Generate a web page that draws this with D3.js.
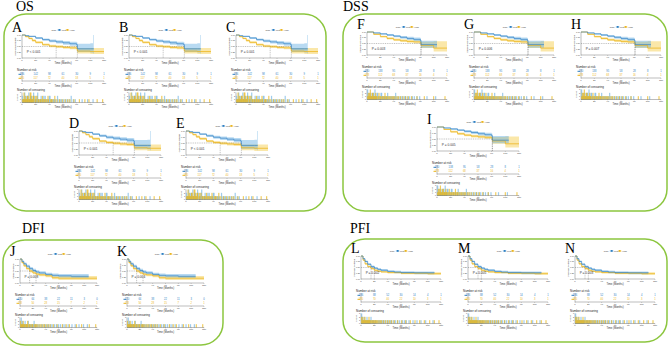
<!DOCTYPE html>
<html>
<head>
<meta charset="utf-8">
<script src="https://cdn.jsdelivr.net/npm/d3@7"></script>
<style>
  body { margin: 0; background: #fff; }
  svg { display: block; }
</style>
</head>
<body>
<div id="chart"></div>
<script>
// ---- data: [time, surv, lower, upper] per risk group ----
const osLow = [[0,1,1,1],[5,.97,.95,.99],[10,.94,.91,.97],[20,.87,.83,.91],[30,.80,.75,.85],[40,.74,.68,.80],[50,.70,.63,.77],[60,.66,.58,.74],[70,.62,.53,.71],[80,.58,.48,.69],[81,.40,.26,.62],[100,.40,.24,.64],[104,.40,.20,1],[105,.40,.20,1]];
const osHigh = [[0,1,1,1],[5,.93,.90,.96],[10,.85,.81,.89],[15,.76,.71,.81],[20,.68,.63,.73],[30,.58,.53,.63],[40,.52,.47,.58],[50,.49,.43,.55],[60,.46,.40,.52],[70,.44,.38,.51],[80,.42,.35,.50],[81,.30,.20,.44],[100,.28,.17,.44],[120,.28,.17,.44]];
const dssLow = [[0,1,1,1],[10,.96,.94,.98],[20,.92,.88,.95],[30,.87,.83,.91],[40,.82,.77,.87],[50,.77,.71,.83],[60,.72,.65,.79],[70,.68,.60,.76],[80,.64,.55,.73],[81,.45,.32,.62],[105,.45,.30,.64]];
const dssHigh = [[0,1,1,1],[10,.90,.87,.93],[20,.80,.76,.84],[30,.72,.67,.77],[40,.66,.61,.72],[50,.62,.56,.68],[60,.59,.53,.66],[70,.57,.50,.64],[80,.55,.47,.63],[81,.42,.30,.58],[100,.30,.15,.60],[120,.30,.15,.60]];
const dfiLow = [[0,1,1,1],[3,.90,.86,.94],[6,.80,.75,.85],[10,.70,.64,.76],[15,.60,.54,.67],[20,.52,.46,.59],[25,.46,.40,.53],[30,.42,.36,.49],[40,.36,.30,.43],[50,.32,.26,.40],[60,.30,.23,.38],[80,.28,.21,.37],[107,.28,.20,.37]];
const dfiHigh = [[0,1,1,1],[3,.85,.81,.89],[6,.72,.67,.77],[10,.60,.55,.66],[15,.50,.44,.56],[20,.42,.36,.48],[25,.37,.31,.43],[30,.34,.28,.40],[40,.30,.24,.36],[50,.22,.16,.30],[60,.20,.13,.29],[120,.20,.13,.29]];
const pfiLow = [[0,1,1,1],[3,.88,.85,.91],[6,.76,.72,.80],[10,.64,.60,.69],[15,.54,.49,.59],[20,.47,.42,.52],[25,.42,.37,.47],[30,.38,.33,.43],[40,.33,.28,.38],[50,.30,.25,.36],[60,.28,.23,.34],[80,.27,.21,.33],[110,.26,.20,.33]];
const pfiHigh = [[0,1,1,1],[3,.82,.79,.85],[6,.66,.62,.70],[10,.54,.50,.58],[15,.45,.41,.49],[20,.38,.34,.42],[25,.34,.30,.38],[30,.31,.27,.35],[40,.28,.24,.32],[60,.25,.21,.30],[100,.23,.18,.29],[120,.23,.18,.29]];

// numbers at risk at 0,20,...,120
const osRiskLow = [186, 142, 98, 61, 30, 9, 1];
const osRiskHigh = [185, 117, 72, 40, 18, 5, 1];
const dssRiskLow = [180, 138, 95, 58, 28, 8, 1];
const dssRiskHigh = [178, 112, 68, 37, 16, 4, 1];
const dfiRiskLow = [120, 64, 38, 22, 11, 3, 0];
const dfiRiskHigh = [118, 50, 28, 15, 7, 2, 1];
const pfiRiskLow = [186, 88, 52, 30, 14, 4, 1];
const pfiRiskHigh = [185, 70, 40, 22, 10, 3, 1];

// censoring: [time, count]
const osCensLow = [[1,2],[2,1],[3,1],[4,3],[5,1],[6,1],[7,2],[8,2],[9,1],[10,3],[11,1],[12,1],[13,2],[14,2],[15,1],[16,1],[17,3],[18,2],[20,1],[21,1],[22,2],[23,3],[24,1],[26,1],[27,1],[28,2],[29,1],[31,1],[32,2],[34,2],[35,1],[37,1],[38,1],[40,2],[41,2],[43,1],[44,1],[46,1],[47,1],[49,1],[52,2],[54,1],[56,1],[58,1],[61,1],[64,1],[66,1],[69,1],[72,2],[75,1],[78,1],[88,1],[96,1],[104,1]];
const osCensHigh = [[1,1],[2,1],[3,3],[4,1],[5,2],[6,1],[7,1],[8,2],[9,2],[10,1],[11,1],[12,3],[13,3],[14,1],[15,1],[16,2],[17,2],[19,1],[20,2],[22,2],[24,1],[25,1],[27,1],[28,1],[30,2],[31,1],[33,1],[34,1],[36,1],[38,2],[39,1],[42,1],[43,1],[45,1],[48,2],[51,1],[55,1],[59,1],[63,1],[67,1],[70,1],[76,1],[84,1],[92,1],[98,1],[110,1],[118,1]];
const dssCensLow = [[1,3],[2,1],[3,2],[4,1],[5,1],[6,2],[7,1],[8,1],[9,2],[10,2],[11,1],[12,3],[13,1],[14,1],[15,2],[16,2],[18,1],[19,1],[21,2],[22,2],[24,1],[25,1],[27,1],[28,1],[30,1],[31,2],[33,1],[35,1],[37,1],[39,1],[41,1],[43,2],[45,1],[48,1],[51,1],[53,1],[56,1],[58,1],[61,1],[64,1],[68,1],[71,1],[75,1],[79,1],[90,1],[103,1]];
const dssCensHigh = [[1,1],[2,2],[3,1],[4,2],[5,3],[6,1],[7,1],[8,2],[9,2],[10,1],[11,1],[12,1],[13,2],[14,1],[15,1],[17,1],[18,2],[20,1],[21,1],[23,1],[24,1],[26,1],[27,2],[29,1],[30,1],[32,1],[34,1],[36,1],[38,1],[40,1],[42,1],[45,1],[47,1],[50,1],[54,1],[58,1],[62,1],[67,1],[75,1],[86,1],[100,1],[117,1]];
const dfiCensLow = [[1,1],[2,3],[3,1],[4,2],[5,1],[6,1],[7,1],[8,2],[9,1],[10,1],[12,1],[13,2],[15,1],[16,1],[18,1],[19,1],[21,1],[22,2],[24,1],[26,1],[28,1],[30,1],[33,1],[35,1],[38,1],[40,1],[43,1],[45,1],[48,1],[50,1],[54,1],[57,1],[60,1],[63,1],[67,1],[70,1],[75,1],[81,1],[86,1],[92,1],[99,1],[105,1]];
const dfiCensHigh = [[1,2],[2,1],[3,1],[4,1],[5,2],[6,1],[7,1],[9,1],[10,1],[11,1],[12,2],[14,1],[15,1],[17,1],[19,1],[20,1],[23,1],[24,1],[26,1],[28,1],[31,1],[33,1],[36,1],[38,1],[41,1],[44,1],[47,1],[52,1],[58,1],[66,1],[72,1],[77,1],[88,1],[96,1],[108,1],[118,1]];
const pfiCensLow = [[1,3],[2,2],[3,1],[4,1],[5,2],[6,1],[7,1],[8,1],[9,2],[10,1],[11,1],[12,1],[13,1],[14,1],[15,2],[17,1],[18,1],[19,1],[21,1],[22,1],[24,1],[26,1],[28,1],[30,1],[32,1],[34,1],[36,1],[39,1],[41,1],[44,1],[46,1],[49,1],[52,1],[55,1],[58,1],[62,1],[65,1],[68,1],[72,1],[78,1],[84,1],[90,1],[97,1],[108,1]];
const pfiCensHigh = [[1,2],[2,1],[3,2],[4,1],[5,1],[6,2],[7,1],[8,1],[9,1],[10,1],[11,1],[12,2],[13,1],[14,1],[16,1],[17,1],[19,1],[20,1],[22,1],[23,1],[25,1],[27,1],[29,1],[31,1],[34,1],[37,1],[40,1],[43,1],[46,1],[50,1],[55,1],[61,1],[67,1],[74,1],[81,1],[88,1],[95,1],[103,1],[110,1],[117,1]];

const timeTicks = [0, 20, 40, 60, 80, 100, 120];
const survTicks = [0, 0.25, 0.5, 0.75, 1];
const censTicks = [0, 1, 2, 3];

const panelLetters = ['A','B','C','D','E','F','G','H','I','J','K','L','M','N'];
const panelGroups  = ['os','os','os','os','os','dss','dss','dss','dss','dfi','dfi','pfi','pfi','pfi'];
const pValues = ['P < 0.001','P < 0.001','P = 0.001','P < 0.001','P < 0.001','P = 0.003','P = 0.006','P = 0.007','P = 0.005','P = 0.008','P = 0.004','P = 0.002','P = 0.005','P = 0.003'];

const groupTitles = {os: 'Overall survival probability', dss: 'Disease specific survival',
                     dfi: 'Disease free interval', pfi: 'Progression free interval'};
const groupData = {
    os:  {low: osLow,  high: osHigh,  riskLow: osRiskLow,  riskHigh: osRiskHigh,  censLow: osCensLow,  censHigh: osCensHigh},
    dss: {low: dssLow, high: dssHigh, riskLow: dssRiskLow, riskHigh: dssRiskHigh, censLow: dssCensLow, censHigh: dssCensHigh},
    dfi: {low: dfiLow, high: dfiHigh, riskLow: dfiRiskLow, riskHigh: dfiRiskHigh, censLow: dfiCensLow, censHigh: dfiCensHigh},
    pfi: {low: pfiLow, high: pfiHigh, riskLow: pfiRiskLow, riskHigh: pfiRiskHigh, censLow: pfiCensLow, censHigh: pfiCensHigh}
};

// ---- layout ----
const boxes = [
    {name: 'OS',  x: 4,   y: 14,  w: 322, h: 197, tx: 16,  ty: 11},
    {name: 'DSS', x: 343, y: 14,  w: 324, h: 197, tx: 343, ty: 11},
    {name: 'DFI', x: 3,   y: 240, w: 220, h: 105, tx: 22,  ty: 233},
    {name: 'PFI', x: 343, y: 239, w: 324, h: 103, tx: 350, ty: 233}
];
// plot area of each KM panel
const panelPos = [
    [22, 35, 82, 23], [129, 35, 82, 23], [236, 35, 82, 23],
    [79, 131, 82, 24], [186, 131, 82, 24],
    [367, 32, 80, 23], [474, 32, 80, 23], [581, 32, 80, 23],
    [437, 127, 82, 24],
    [20, 259, 77, 24], [127, 259, 77, 24],
    [361, 256, 80, 23], [468, 256, 80, 23], [575, 256, 80, 23]
];

const BLUE = '#2f80c3', BLUE_BAND = '#56a6df', BLUE_CENS = '#7fbbe6';
const YELLOW = '#ecb622', YELLOW_BAND = '#f3c533', YELLOW_CENS = '#e9b81c';
const GREEN = '#8cc63f';
const AXIS = '#555';

const svg = d3.select('#chart').append('svg')
    .attr('width', 669)
    .attr('height', 350);

boxes.forEach(b => {
    svg.append('rect')
        .attr('x', b.x).attr('y', b.y)
        .attr('width', b.w).attr('height', b.h)
        .attr('rx', 22).attr('ry', 22)
        .attr('fill', 'none')
        .attr('stroke', GREEN)
        .attr('stroke-width', 1.5);
    svg.append('text')
        .attr('x', b.tx).attr('y', b.ty)
        .attr('font-family', '"Liberation Serif", "DejaVu Serif", serif')
        .attr('font-size', 14)
        .text(b.name);
});

function medianTime(curve) {
    const hit = curve.find(d => d[1] <= 0.5);
    return hit ? hit[0] : null;
}

function drawAxisX(g, x, y0, fs) {
    g.append('line').attr('x1', x.range()[0]).attr('x2', x.range()[1])
        .attr('y1', y0).attr('y2', y0).attr('stroke', AXIS).attr('stroke-width', 0.4);
    timeTicks.forEach(t => {
        g.append('line').attr('x1', x(t)).attr('x2', x(t)).attr('y1', y0).attr('y2', y0 + 0.8)
            .attr('stroke', AXIS).attr('stroke-width', 0.3);
        g.append('text').attr('x', x(t)).attr('y', y0 + 2.8)
            .attr('text-anchor', 'middle').attr('font-size', fs).attr('fill', '#444').text(t);
    });
    g.append('text').attr('x', (x.range()[0] + x.range()[1]) / 2).attr('y', y0 + 5.6)
        .attr('text-anchor', 'middle').attr('font-size', fs + 0.3).attr('fill', '#333').text('Time (Months)');
}

function drawPanel(i) {
    const [px, py, pw, ph] = panelPos[i];
    const key = panelGroups[i];
    const data = groupData[key];
    const g = svg.append('g').attr('font-family', 'Arial, "Liberation Sans", sans-serif');
    const fs = 2.4;

    const x = d3.scaleLinear().domain([0, 120]).range([px, px + pw]);
    const y = d3.scaleLinear().domain([0, 1]).range([py + ph, py]);

    // panel letter
    g.append('text')
        .attr('x', px - 10).attr('y', py - 3.5)
        .attr('font-family', '"Liberation Serif", "DejaVu Serif", serif')
        .attr('font-size', 14)
        .text(panelLetters[i]);

    // legend
    const lx = px + pw * 0.36, ly = py - 5;
    g.append('text').attr('x', lx).attr('y', ly + 0.9).attr('font-size', fs).attr('fill', '#444').text('Risk');
    [['Low', BLUE, 6], ['High', YELLOW, 14]].forEach(([lab, c, off]) => {
        g.append('line').attr('x1', lx + off).attr('x2', lx + off + 3.6).attr('y1', ly).attr('y2', ly)
            .attr('stroke', c).attr('stroke-width', 0.6);
        g.append('rect').attr('x', lx + off + 1).attr('y', ly - 1).attr('width', 1.8).attr('height', 1.8).attr('fill', c);
        g.append('text').attr('x', lx + off + 4.2).attr('y', ly + 0.9).attr('font-size', fs).attr('fill', '#444').text(lab);
    });

    // confidence bands and curves
    const band = d3.area().curve(d3.curveStepAfter)
        .x(d => x(d[0])).y0(d => y(d[2])).y1(d => y(d[3]));
    const line = d3.line().curve(d3.curveStepAfter)
        .x(d => x(d[0])).y(d => y(d[1]));

    g.append('path').attr('d', band(data.high)).attr('fill', YELLOW_BAND).attr('opacity', 0.42);
    g.append('path').attr('d', band(data.low)).attr('fill', BLUE_BAND).attr('opacity', 0.42);

    // median lines
    const mLow = medianTime(data.low), mHigh = medianTime(data.high);
    const mMax = d3.max([mLow, mHigh].filter(m => m !== null));
    g.append('line').attr('x1', x(0)).attr('x2', x(mMax)).attr('y1', y(0.5)).attr('y2', y(0.5))
        .attr('stroke', '#666').attr('stroke-width', 0.4).attr('stroke-dasharray', '1,0.8');
    [mLow, mHigh].filter(m => m !== null).forEach(m => {
        g.append('line').attr('x1', x(m)).attr('x2', x(m)).attr('y1', y(0.5)).attr('y2', y(0))
            .attr('stroke', '#666').attr('stroke-width', 0.4).attr('stroke-dasharray', '1,0.8');
    });

    g.append('path').attr('d', line(data.high)).attr('fill', 'none').attr('stroke', YELLOW).attr('stroke-width', 0.8);
    g.append('path').attr('d', line(data.low)).attr('fill', 'none').attr('stroke', BLUE).attr('stroke-width', 0.8).attr('opacity', 0.85);

    // y axis
    g.append('line').attr('x1', px).attr('x2', px).attr('y1', py).attr('y2', py + ph)
        .attr('stroke', AXIS).attr('stroke-width', 0.4);
    survTicks.forEach(s => {
        g.append('text').attr('x', px - 1).attr('y', y(s) + 0.7)
            .attr('text-anchor', 'end').attr('font-size', 2).attr('fill', '#444').text(s.toFixed(2));
    });
    g.append('text')
        .attr('transform', `translate(${px - 6},${py + ph / 2}) rotate(-90)`)
        .attr('text-anchor', 'middle').attr('font-size', 1.6).attr('fill', '#444')
        .text(groupTitles[key]);
    drawAxisX(g, x, py + ph, fs);

    // p value
    g.append('text').attr('x', x(7)).attr('y', y(0.2)).attr('font-size', 3.2).attr('fill', '#333').text(pValues[i]);

    // number at risk
    const ry = py + ph + 12.5;
    g.append('text').attr('x', px - 5).attr('y', ry).attr('font-size', 3).attr('fill', '#222').text('Number at risk');
    const rTop = ry + 1.5, rBot = ry + 10.5;
    g.append('line').attr('x1', px).attr('x2', px).attr('y1', rTop).attr('y2', rBot).attr('stroke', AXIS).attr('stroke-width', 0.4);
    [[data.riskLow, BLUE, rTop + 3], [data.riskHigh, YELLOW, rTop + 7]].forEach(([vals, c, yy]) => {
        g.append('line').attr('x1', px - 3.5).attr('x2', px - 1).attr('y1', yy - 0.7).attr('y2', yy - 0.7)
            .attr('stroke', c).attr('stroke-width', 1);
        vals.forEach((v, k) => {
            g.append('text').attr('x', x(timeTicks[k])).attr('y', yy)
                .attr('text-anchor', 'middle').attr('font-size', 2.6).attr('fill', c).text(v);
        });
    });
    drawAxisX(g, x, rBot, fs);

    // number of censoring
    const cy0 = rBot + 10;
    g.append('text').attr('x', px - 5).attr('y', cy0).attr('font-size', 3).attr('fill', '#222').text('Number of censoring');
    const cTop = cy0 + 1.5, cBot = cy0 + 11.5;
    const yc = d3.scaleLinear().domain([0, 3]).range([cBot, cTop]);
    g.append('line').attr('x1', px).attr('x2', px).attr('y1', cTop).attr('y2', cBot).attr('stroke', AXIS).attr('stroke-width', 0.4);
    censTicks.forEach(c => {
        g.append('text').attr('x', px - 1).attr('y', yc(c) + 0.7)
            .attr('text-anchor', 'end').attr('font-size', 2).attr('fill', '#444').text(c);
    });
    g.append('text')
        .attr('transform', `translate(${px - 4.5},${(cTop + cBot) / 2}) rotate(-90)`)
        .attr('text-anchor', 'middle').attr('font-size', 1.8).attr('fill', '#444').text('n.censor');
    [[data.censLow, BLUE_CENS, 0.75], [data.censHigh, YELLOW_CENS, 0.7]].forEach(([list, c, op]) => {
        g.selectAll(null).data(list).enter().append('rect')
            .attr('x', d => x(d[0]) - 0.6)
            .attr('y', d => yc(d[1]))
            .attr('width', 1.2)
            .attr('height', d => cBot - yc(d[1]))
            .attr('fill', c)
            .attr('opacity', op);
    });
    drawAxisX(g, x, cBot, fs);
}

panelLetters.forEach((_, i) => drawPanel(i));
</script>
</body>
</html>
